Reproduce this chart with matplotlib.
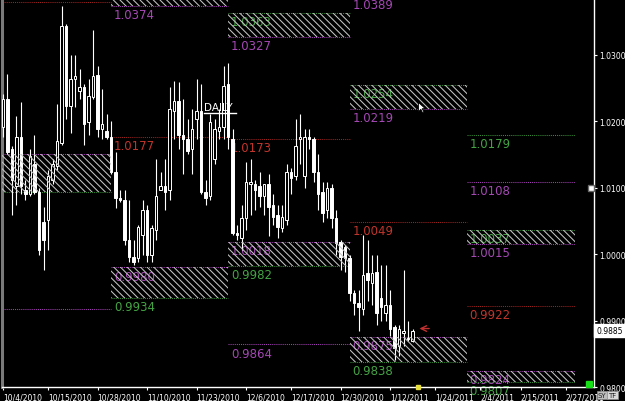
import matplotlib

matplotlib.use("Agg")
import matplotlib.pyplot as plt  # noqa: E402
import numpy as np  # noqa: E402
import pandas as pd  # noqa: E402
from matplotlib.patches import Rectangle  # noqa: E402
from matplotlib.path import Path  # noqa: E402

# Daily bars incl. sunday sessions (no saturdays)
START, END = "2010-10-04", "2011-02-28"

opens = [1.0191, 1.0233, 1.0158, 1.0102, 1.0176, 1.0097, 1.0090, 1.0135, 1.0094, 1.0049,
         1.0052, 1.0112, 1.0132, 1.0168, 1.0344, 1.0223, 1.0264, 1.0246, 1.0252, 1.0199,
         1.0237, 1.0270, 1.0188, 1.0185, 1.0177, 1.0124, 1.0085, 1.0082, 1.0021, 0.9996,
         0.9994, 1.0029, 1.0067, 0.9999, 1.0037, 1.0097, 1.0102, 1.0097, 1.0215, 1.0230,
         1.0180, 1.0173, 1.0158, 1.0203, 1.0215, 1.0094, 1.0087, 1.0143, 1.0185, 1.0191,
         1.0256, 1.0173, 1.0032, 1.0024, 1.0055, 1.0105, 1.0105, 1.0102, 1.0087, 1.0105,
         1.0074, 1.0059, 1.0040, 1.0052, 1.0123, 1.0117, 1.0173, 1.0117, 1.0176, 1.0173,
         1.0124, 1.0093, 1.0067, 1.0100, 1.0055, 1.0018, 1.0011, 0.9994, 0.9941, 0.9926,
         0.9918, 0.9971, 0.9956, 0.9973, 0.9934, 0.9912, 0.9923, 0.9890, 0.9862, 0.9882,
         0.9874, 0.9870]
highs = [1.0241, 1.0271, 1.0162, 1.0208, 1.0229, 1.0112, 1.0158, 1.0180, 1.0100, 1.0071,
         1.0127, 1.0143, 1.0226, 1.0373, 1.0346, 1.0299, 1.0299, 1.0279, 1.0256, 1.0264,
         1.0337, 1.0283, 1.0249, 1.0211, 1.0200, 1.0153, 1.0097, 1.0097, 1.0082, 1.0021,
         1.0044, 1.0082, 1.0074, 1.0044, 1.0143, 1.0124, 1.0143, 1.0252, 1.0261, 1.0259,
         1.0233, 1.0203, 1.0218, 1.0264, 1.0256, 1.0112, 1.0211, 1.0203, 1.0218, 1.0283,
         1.0287, 1.0188, 1.0044, 1.0074, 1.0138, 1.0143, 1.0112, 1.0124, 1.0105, 1.0120,
         1.0090, 1.0074, 1.0074, 1.0135, 1.0130, 1.0203, 1.0211, 1.0188, 1.0188, 1.0176,
         1.0150, 1.0108, 1.0108, 1.0105, 1.0067, 1.0021, 1.0014, 0.9999, 0.9946, 0.9946,
         1.0029, 1.0021, 0.9999, 0.9999, 0.9984, 0.9984, 0.9946, 0.9893, 0.9893, 0.9976,
         0.9900, 0.9887]
lows = [1.0177, 1.0150, 1.0059, 1.0074, 1.0090, 1.0082, 1.0087, 1.0090, 0.9999, 0.9976,
        1.0006, 1.0105, 1.0127, 1.0165, 1.0203, 1.0183, 1.0221, 1.0233, 1.0165, 1.0180,
        1.0233, 1.0177, 1.0173, 1.0173, 1.0120, 1.0070, 1.0079, 1.0014, 0.9988, 0.9984,
        0.9988, 0.9999, 0.9988, 0.9988, 1.0021, 1.0097, 1.0067, 1.0082, 1.0173, 1.0158,
        1.0120, 1.0150, 1.0120, 1.0173, 1.0090, 1.0074, 1.0082, 1.0135, 1.0173, 1.0173,
        1.0158, 1.0029, 1.0021, 1.0006, 1.0037, 1.0059, 1.0067, 1.0071, 1.0059, 1.0027,
        1.0044, 1.0024, 1.0034, 1.0044, 1.0090, 1.0112, 1.0135, 1.0100, 1.0158, 1.0108,
        1.0067, 1.0049, 1.0055, 1.0040, 0.9999, 0.9976, 0.9973, 0.9930, 0.9908, 0.9885,
        0.9908, 0.9930, 0.9923, 0.9893, 0.9900, 0.9900, 0.9877, 0.9840, 0.9847, 0.9862,
        0.9870, 0.9867]
closes = [1.0233, 1.0153, 1.0112, 1.0176, 1.0102, 1.0090, 1.0147, 1.0094, 1.0006, 1.0021,
          1.0117, 1.0135, 1.0170, 1.0344, 1.0223, 1.0264, 1.0268, 1.0252, 1.0196, 1.0238,
          1.0268, 1.0188, 1.0196, 1.0177, 1.0123, 1.0085, 1.0082, 1.0021, 0.9996, 0.9988,
          1.0041, 1.0067, 0.9999, 1.0040, 1.0087, 1.0102, 1.0094, 1.0218, 1.0230, 1.0180,
          1.0173, 1.0155, 1.0188, 1.0215, 1.0093, 1.0085, 1.0199, 1.0188, 1.0191, 1.0253,
          1.0177, 1.0032, 1.0029, 1.0055, 1.0108, 1.0108, 1.0097, 1.0087, 1.0105, 1.0071,
          1.0056, 1.0041, 1.0056, 1.0124, 1.0115, 1.0162, 1.0176, 1.0176, 1.0173, 1.0124,
          1.0090, 1.0062, 1.0100, 1.0055, 1.0017, 0.9996, 0.9994, 0.9941, 0.9926, 0.9920,
          0.9968, 0.9961, 0.9971, 0.9912, 0.9920, 0.9923, 0.9888, 0.9859, 0.9888, 0.9885,
          0.9873, 0.9885]

tick_dates = ["2010-10-04", "2010-10-15", "2010-10-28", "2010-11-10", "2010-11-23",
              "2010-12-06", "2010-12-17", "2010-12-30", "2011-01-12", "2011-01-24",
              "2011-02-04", "2011-02-15", "2011-02-27"]

# monthly levels: month (0=Oct .. 4=Feb), value, colour kind, labelled?
level_month = [0, 0, 0, 0,
               1, 1, 1, 1, 1,
               2, 2, 2, 2, 2, 2,
               3, 3, 3, 3, 3, 3,
               4, 4, 4, 4, 4, 4, 4]
level_value = [1.0380, 1.0150, 1.0094, 0.9918,
               1.0420, 1.0374, 1.0177, 0.9980, 0.9934,
               1.0363, 1.0327, 1.0173, 1.0018, 0.9982, 0.9864,
               1.0389, 1.0254, 1.0219, 1.0049, 0.9875, 0.9838,
               1.0179, 1.0108, 1.0037, 1.0015, 0.9922, 0.9824, 0.9807]
level_kind = ["r", "m", "g", "m",
              "g", "m", "r", "m", "g",
              "g", "m", "r", "m", "g", "m",
              "m", "g", "m", "r", "m", "g",
              "g", "m", "g", "m", "r", "m", "g"]
level_label = [0, 0, 0, 0,
               0, 1, 1, 1, 1,
               1, 1, 1, 1, 1, 1,
               1, 1, 1, 1, 1, 1,
               1, 1, 1, 1, 1, 1, 1]

# hatched zones: month, top, bottom
zone_month = [0, 1, 1, 2, 2, 3, 3, 4, 4]
zone_top = [1.0150, 1.0420, 0.9980, 1.0363, 1.0018, 1.0254, 0.9875, 1.0037, 0.9824]
zone_bottom = [1.0094, 1.0374, 0.9934, 1.0327, 0.9982, 1.0219, 0.9838, 1.0015, 0.9807]

last_price = 0.9885
y_ticks = [0.98, 0.99, 1.00, 1.01, 1.02, 1.03]

LINE_COL = {"r": "#9c2420", "m": "#a040b0", "g": "#3a8c3a"}
TEXT_COL = {"r": "#c0352c", "m": "#a448b4", "g": "#44a444"}

dates = pd.date_range(START, END, freq="D")
dates = dates[dates.dayofweek != 5]
pos = {d: i for i, d in enumerate(dates)}
n_bars = len(opens)

XMIN, XMAX = -0.22, 131.3
month_first = [i for i in range(1, len(dates)) if dates[i].month != dates[i - 1].month]
edges = [XMIN] + month_first + [len(dates)]

plt.rcParams["hatch.linewidth"] = 0.75
fig = plt.figure(figsize=(6.25, 4.02), dpi=100, facecolor="black")
ax = fig.add_axes([0.0032, 0.0348, 0.9472, 0.9652], facecolor="black")

# candles
x = np.arange(n_bars)
o, h, l, c = map(np.array, (opens, highs, lows, closes))
up = c >= o
ax.vlines(x, l, h, color="white", lw=0.8, zorder=3)
body_lo = np.minimum(o, c)
body_h = np.maximum(np.abs(c - o), 0.00012)
ax.bar(x[up], body_h[up], bottom=body_lo[up], width=0.62, facecolor="black",
       edgecolor="white", lw=0.7, zorder=3.5)
ax.bar(x[~up], body_h[~up], bottom=body_lo[~up], width=0.62, facecolor="white",
       edgecolor="white", lw=0.7, zorder=3.5)

# monthly levels
for m, v, k, lab in zip(level_month, level_value, level_kind, level_label):
    ax.hlines(v, edges[m], edges[m + 1], color=LINE_COL[k], lw=0.75,
              linestyles=(0, (1, 1)), zorder=2)
    if lab:
        ax.annotate(f"{v:.4f}", (edges[m], v), xytext=(2, -1.5),
                    textcoords="offset points", ha="left", va="top",
                    color=TEXT_COL[k], fontsize=8.5, zorder=2.5,
                    annotation_clip=False)

for m, t, b in zip(zone_month, zone_top, zone_bottom):
    ax.add_patch(Rectangle((edges[m], b), edges[m + 1] - edges[m], t - b,
                           facecolor="none", edgecolor="#c4c4c4", lw=0,
                           hatch="\\\\\\\\\\", zorder=4))

# annotations on the chart
ax.text(44.7, 1.0214, "DAILY", color="white", fontsize=7.5, ha="left",
        va="bottom", zorder=5)
ax.plot([44.6, 51.8], [1.0213, 1.0213], color="white", lw=1, zorder=5)
ax.annotate("", xy=(91.9, last_price + 0.0003), xytext=(95.3, last_price + 0.0003),
            arrowprops=dict(arrowstyle="->", color="#c03030", lw=1), zorder=5)
cursor = Path([(0, 0), (0, -1.1), (0.28, -0.82), (0.5, -1.25), (0.66, -1.17),
               (0.45, -0.74), (0.82, -0.74), (0, 0)])
ax.plot([92.2], [1.0229], marker=cursor, markersize=15, markerfacecolor="white",
        markeredgecolor="black", markeredgewidth=0.6, zorder=6)

ax.set_xlim(XMIN, XMAX)
ax.set_ylim(0.9800, 1.0384)

# axes styling
ax.spines["top"].set_visible(False)
ax.spines["left"].set_color("#7a7a7a")
ax.spines["left"].set_linewidth(2.2)
ax.spines["right"].set_color("white")
ax.spines["bottom"].set_color("white")
ax.spines["right"].set_linewidth(1)
ax.spines["bottom"].set_linewidth(1)

ax.yaxis.tick_right()
ax.set_yticks(y_ticks)
ax.set_yticklabels([f"{t:.4f}" for t in y_ticks])
ax.tick_params(axis="y", colors="white", labelsize=5.5, length=2.5, width=0.8, pad=1.5,
               direction="out")
ax.set_xticks([pos[pd.Timestamp(d)] for d in tick_dates])
ax.set_xticklabels([f"{pd.Timestamp(d).month}/{pd.Timestamp(d).day}/{pd.Timestamp(d).year}"
                    for d in tick_dates], ha="left")
ax.tick_params(axis="x", colors="white", labelsize=5.5, length=2.5, width=0.8, pad=1.5,
               direction="out")

# price marker and small widgets on the right
ax.text(1.004, last_price, f"{last_price:.4f}", transform=ax.get_yaxis_transform(),
        ha="left", va="center", fontsize=5.5, color="black", clip_on=False,
        bbox=dict(boxstyle="square,pad=0.25", facecolor="white", edgecolor="white"))
ax.plot([0.995], [1.0100], transform=ax.get_yaxis_transform(), marker="s",
        markersize=4, markerfacecolor="white", markeredgecolor="#666666",
        clip_on=False, zorder=6)
ax.plot([0.9915], [0.008], transform=ax.transAxes, marker="s", markersize=4.5,
        color="#18e018", clip_on=False, zorder=6)
ax.plot([92.2], [0.9800], marker="s", markersize=2.5, color="#e8e040",
        clip_on=False, zorder=6)
fig.text(0.9568, 0.0075, "SY", fontsize=5, color="#202020", ha="left", va="bottom",
         bbox=dict(boxstyle="square,pad=0.2", facecolor="#bdbdbd", edgecolor="#888888", lw=0.5))
fig.text(0.9728, 0.0075, "TF", fontsize=5, color="#202020", ha="left", va="bottom",
         bbox=dict(boxstyle="square,pad=0.2", facecolor="#d8d8d8", edgecolor="#888888", lw=0.5))

fig.savefig("out.png", dpi=100, facecolor="black")
plt.close(fig)
